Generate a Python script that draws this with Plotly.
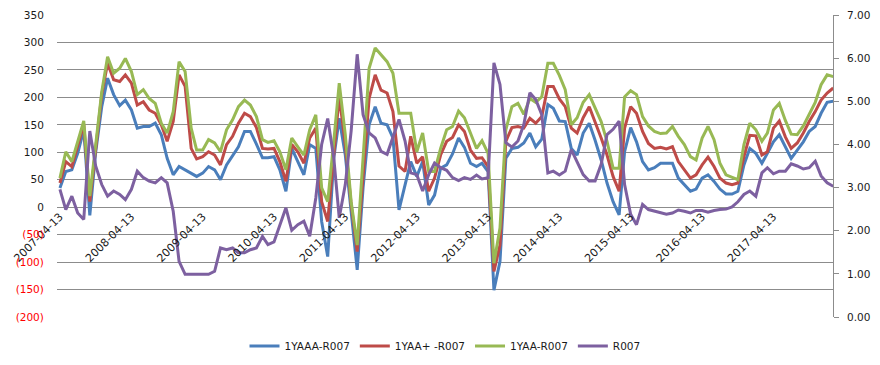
import plotly.graph_objects as go
import pandas as pd

# monthly observation dates (category axis)
dates = [d.strftime("%Y-%m-%d") for d in pd.date_range("2007-04-13", periods=131, freq=pd.DateOffset(months=1))]

aaa_r007 = [35, 65, 68, 98, 141, -15, 100, 183, 235, 205, 185, 195, 177, 144, 147, 147, 153, 132, 89, 59,
            74, 68, 62, 56, 62, 74, 68, 50, 77, 95, 110, 138, 138, 115, 90, 90, 92, 68, 29, 107,
            83, 59, 114, 107, -26, -90, 89, 162, 95, -2, -114, 35, 150, 183, 153, 150, 126, -5, 41, 83,
            56, 83, 4, 22, 71, 77, 97, 126, 109, 80, 74, 80, 65, -151, -99, 89, 107, 109, 117, 135,
            110, 124, 187, 180, 157, 156, 107, 95, 135, 153, 122, 86, 44, 10, -14, 101, 145, 119, 83, 68,
            72, 80, 80, 80, 53, 41, 29, 33, 53, 59, 47, 33, 24, 24, 29, 77, 107, 98, 80, 98,
            119, 132, 110, 89, 104, 119, 138, 147, 171, 191, 193]

aap_r007 = [44, 83, 74, 110, 151, 10, 105, 205, 262, 232, 229, 241, 226, 186, 192, 177, 171, 150, 120, 156,
            241, 220, 107, 88, 92, 101, 95, 77, 114, 129, 153, 171, 165, 145, 107, 106, 107, 83, 47, 114,
            101, 80, 126, 144, 10, -26, 95, 202, 114, 5, -81, 59, 198, 241, 213, 208, 174, 75, 65, 129,
            80, 92, 29, 53, 95, 120, 127, 150, 138, 104, 89, 90, 74, -117, -69, 120, 145, 147, 144, 162,
            153, 165, 220, 220, 197, 183, 144, 135, 163, 183, 156, 126, 95, 56, 29, 144, 183, 171, 138, 116,
            107, 109, 106, 110, 83, 69, 53, 59, 77, 91, 74, 53, 44, 41, 44, 92, 131, 130, 95, 101,
            144, 157, 128, 107, 117, 135, 156, 174, 195, 208, 217]

aa_r007 = [53, 101, 83, 120, 157, 20, 110, 210, 274, 244, 253, 271, 247, 205, 214, 198, 189, 153, 135, 174,
           265, 247, 144, 104, 104, 123, 117, 101, 141, 159, 183, 195, 186, 165, 123, 118, 121, 101, 68, 126,
           110, 95, 141, 168, 35, 10, 120, 226, 132, 10, -69, 89, 253, 290, 278, 265, 244, 171, 171, 171,
           101, 135, 65, 65, 107, 141, 147, 175, 163, 135, 107, 121, 98, -102, -38, 141, 183, 189, 169, 198,
           191, 201, 262, 262, 240, 214, 150, 163, 191, 205, 180, 156, 120, 71, 71, 201, 212, 205, 165, 148,
           138, 134, 135, 147, 129, 114, 92, 86, 126, 147, 123, 80, 59, 55, 50, 114, 153, 141, 120, 135,
           177, 189, 158, 133, 132, 148, 168, 191, 223, 241, 238]

r007 = [2.96, 2.49, 2.80, 2.41, 2.26, 4.31, 3.50, 3.07, 2.80, 2.92, 2.84, 2.72, 2.96, 3.38, 3.23, 3.15, 3.11, 3.23, 3.11, 2.45,
        1.29, 0.99, 0.99, 0.99, 0.99, 0.99, 1.06, 1.60, 1.56, 1.60, 1.49, 1.49, 1.56, 1.60, 1.87, 1.68, 1.74, 2.14, 2.53, 2.01,
        2.14, 2.22, 1.87, 2.76, 4.00, 4.60, 3.69, 2.30, 3.07, 4.31, 6.09, 4.69, 4.27, 4.15, 3.84, 3.77, 4.15, 4.58, 4.08, 3.34,
        3.30, 2.92, 3.30, 3.57, 3.46, 3.40, 3.23, 3.16, 3.23, 3.19, 3.29, 3.20, 3.23, 5.89, 5.39, 4.04, 3.94, 4.08, 4.46, 5.20,
        5.04, 4.69, 3.34, 3.38, 3.29, 3.38, 3.88, 3.61, 3.30, 3.15, 3.15, 3.54, 4.23, 4.35, 4.54, 3.07, 2.38, 2.14, 2.61, 2.49,
        2.45, 2.41, 2.38, 2.41, 2.48, 2.45, 2.41, 2.47, 2.47, 2.43, 2.47, 2.49, 2.50, 2.55, 2.67, 2.84, 2.92, 2.80, 3.34, 3.46,
        3.32, 3.38, 3.38, 3.55, 3.50, 3.43, 3.46, 3.61, 3.27, 3.11, 3.03]

series_names = ["1YAAA-R007", "1YAA+ -R007", "1YAA-R007", "R007"]
series_colors = ["#4A7EBB", "#BE4B48", "#98B954", "#7D60A0"]

left_ticks = [-200, -150, -100, -50, 0, 50, 100, 150, 200, 250, 300, 350]
left_text = [("<span style='color:#FF0000'>(%d)</span>" % -v) if v < 0 else str(v) for v in left_ticks]
x_ticks = ["%d-04-13" % y for y in range(2007, 2018)]

FONT = "DejaVu Sans"

fig = go.Figure()
for name, vals, col in zip(series_names[:3], [aaa_r007, aap_r007, aa_r007], series_colors[:3]):
    fig.add_trace(go.Scatter(x=dates, y=vals, name=name, mode="lines",
                             line=dict(color=col, width=3), yaxis="y"))
fig.add_trace(go.Scatter(x=dates, y=r007, name=series_names[3], mode="lines",
                         line=dict(color=series_colors[3], width=3), yaxis="y2"))

fig.update_layout(
    width=880, height=365,
    margin=dict(l=57, r=47, t=15, b=48, autoexpand=False),
    paper_bgcolor="white", plot_bgcolor="white",
    font=dict(family=FONT, size=10.5, color="#1a1a1a"),
    showlegend=True,
    legend=dict(orientation="h", x=0.5, xanchor="center", yref="container", y=0.052, yanchor="middle",
                font=dict(family=FONT, size=10.5, color="#1a1a1a"), itemwidth=30, tracegroupgap=0),
    xaxis=dict(
        type="date", range=["2007-03-29", "2018-02-12"],
        tickvals=x_ticks, ticktext=x_ticks, tickangle=-45,
        showgrid=False, zeroline=False, showline=False, ticks="",
        anchor="free", position=0.364, automargin=False,
        tickfont=dict(family=FONT, size=11, color="#1a1a1a"),
    ),
    yaxis=dict(
        range=[-200, 350], tickvals=left_ticks, ticktext=left_text,
        showgrid=True, gridcolor="#8C8C8C", gridwidth=1, zeroline=False,
        showline=False, ticks="outside", ticklen=10, tickcolor="rgba(0,0,0,0)",
        automargin=False,
        tickfont=dict(family=FONT, size=10.5, color="#1a1a1a"),
    ),
    yaxis2=dict(
        range=[0, 7], dtick=1, tickformat=".2f", overlaying="y", side="right",
        showgrid=False, zeroline=False, showline=True, linecolor="#8C8C8C", linewidth=1,
        ticks="outside", ticklen=5, tickcolor="#8C8C8C", ticklabelstandoff=6,
        automargin=False,
        tickfont=dict(family=FONT, size=10.5, color="#1a1a1a"),
    ),
)

fig.write_html("out.html", config={"displayModeBar": False},
               post_script="document.body.style.margin='0';document.body.style.padding='0';")
